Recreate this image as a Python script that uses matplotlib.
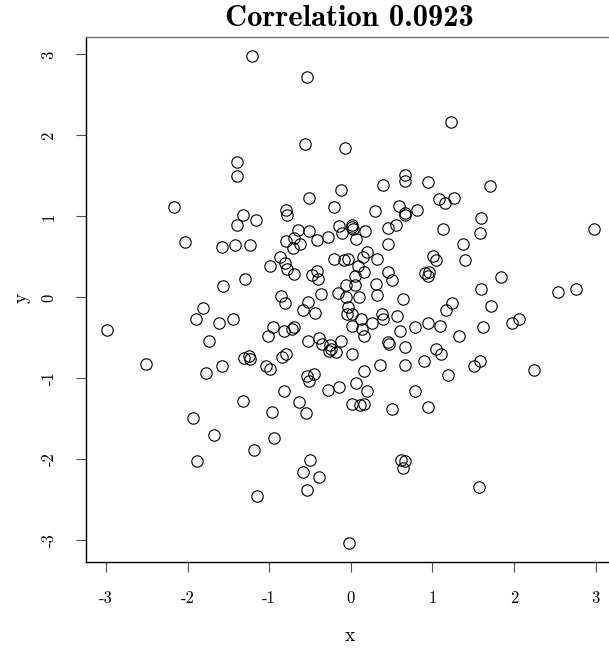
import numpy as np
import matplotlib
matplotlib.use("Agg")
import matplotlib.pyplot as plt

plt.rcParams['axes.unicode_minus'] = False

# sample points (x, y)
xs = [-1.21, -0.54, 1.23, -0.56, -0.07, -1.39, -1.39, 0.67, 0.66, 0.40,
      0.95, 1.71, -0.12, -0.51, 1.08, 1.15, 1.27, -2.16, -0.80, -0.78,
      -0.21, 0.30, 0.59, 0.66, 0.67, 0.81, -1.32, -1.16, 1.59, 2.98,
      1.13, 1.58, -1.40, -0.65, -0.51, -0.14, -0.11, 0.01, 0.02, 0.03,
      0.06, 0.18, 0.46, 0.55, 0.45, 1.38, -2.03, -1.58, -1.42, -1.23,
      -0.80, -0.70, -0.62, -0.71, -0.41, -0.28, 0.20, 0.15, 0.32, 1.01,
      1.04, 1.40, -0.87, -0.81, -0.99, -0.78, -0.69, -0.21, -0.08, -0.03,
      0.09, -0.41, -0.47, -0.40, 0.05, 0.16, 0.45, 0.50, 0.31, 0.91,
      0.96, 0.95, 1.84, -1.30, -1.56, -0.06, 0.05, 1.60, 2.54, 2.76,
      -0.85, -0.81, -0.36, -0.16, -0.06, 0.10, 0.32, 0.64, -0.52, -0.58,
      -0.44, -0.03, -0.05, 0.02, 0.01, 0.13, 0.14, 0.16, 0.26, 0.38,
      0.39, 0.56, 0.60, 0.79, 0.95, 1.09, 1.24, 1.17, 1.72, 1.62,
      1.98, 2.06, 1.33, -1.81, -1.90, -1.44, -1.61, -2.99, -1.74, -0.95,
      -1.02, -0.82, -0.72, -0.70, -0.53, -0.39, -0.35, -0.26, -0.24, -0.18,
      -0.27, -0.12, 0.45, 0.47, 0.67, 1.04, 1.11, 0.02, -1.31, -1.25,
      -1.24, -0.84, -0.80, -2.51, -1.58, -1.78, -1.04, -0.99, 0.36, 0.66,
      0.90, 1.58, 1.51, 2.24, 1.19, 0.16, -0.54, -0.51, -0.45, -0.82,
      -0.28, -0.14, 0.06, 0.20, 0.79, -1.32, -0.97, -0.64, -0.55, 0.01,
      0.11, 0.16, 0.51, 0.95, -1.93, -1.67, -0.94, -1.19, -1.89, -0.50,
      -0.59, -0.39, -0.54, -1.15, 0.61, 0.67, 0.64, 1.57, -0.02]
ys = [2.98, 2.72, 2.17, 1.90, 1.84, 1.67, 1.50, 1.51, 1.44, 1.39,
      1.42, 1.38, 1.33, 1.23, 1.21, 1.17, 1.23, 1.12, 1.08, 1.02,
      1.12, 1.07, 1.13, 1.04, 1.02, 1.08, 1.02, 0.96, 0.98, 0.85,
      0.85, 0.79, 0.89, 0.83, 0.82, 0.88, 0.80, 0.89, 0.87, 0.85,
      0.72, 0.82, 0.86, 0.89, 0.66, 0.66, 0.69, 0.62, 0.65, 0.65,
      0.70, 0.73, 0.66, 0.61, 0.71, 0.75, 0.56, 0.50, 0.47, 0.51,
      0.46, 0.46, 0.50, 0.42, 0.39, 0.35, 0.29, 0.48, 0.46, 0.47,
      0.39, 0.33, 0.28, 0.23, 0.27, 0.31, 0.32, 0.21, 0.17, 0.30,
      0.32, 0.27, 0.25, 0.23, 0.14, 0.15, 0.15, 0.11, 0.07, 0.10,
      0.02, -0.07, 0.04, 0.06, 0.01, 0.01, 0.03, -0.02, -0.05, -0.16,
      -0.19, -0.12, -0.21, -0.21, -0.35, -0.27, -0.39, -0.48, -0.31, -0.21,
      -0.26, -0.23, -0.41, -0.36, -0.32, -0.35, -0.07, -0.15, -0.11, -0.36,
      -0.32, -0.26, -0.47, -0.13, -0.26, -0.27, -0.32, -0.40, -0.54, -0.37,
      -0.47, -0.41, -0.39, -0.37, -0.54, -0.50, -0.58, -0.59, -0.63, -0.67,
      -0.66, -0.54, -0.55, -0.58, -0.61, -0.63, -0.70, -0.70, -0.75, -0.72,
      -0.76, -0.74, -0.70, -0.82, -0.84, -0.93, -0.85, -0.88, -0.83, -0.83,
      -0.78, -0.78, -0.84, -0.89, -0.96, -0.91, -0.97, -1.03, -0.94, -1.16,
      -1.14, -1.11, -1.06, -1.16, -1.16, -1.28, -1.41, -1.29, -1.42, -1.31,
      -1.33, -1.31, -1.38, -1.35, -1.49, -1.70, -1.74, -1.88, -2.02, -2.01,
      -2.16, -2.22, -2.38, -2.45, -2.01, -2.02, -2.11, -2.34, -3.03]

ticks = [-3, -2, -1, 0, 1, 2, 3]
tick_labels = ["-3", "-2", "-1", "0", "1", "2", "3"]

W, H = 609, 649
fig = plt.figure(figsize=(W / 100, H / 100), dpi=100)
ax = fig.add_axes([86 / W, 86.8 / H, 527 / W, 525.7 / H])

ax.plot(xs, ys, linestyle="none", marker="o", markersize=8.2,
        markerfacecolor="none", markeredgecolor="black", markeredgewidth=0.8)

ax.set_xlim(-3.244, 3.212)
ax.set_ylim(-3.268, 3.222)

for side in ["left", "bottom", "right"]:
    ax.spines[side].set_color("black")
    ax.spines[side].set_linewidth(1.0)
ax.spines["top"].set_color("0.45")
ax.spines["top"].set_linewidth(1.0)

ax.set_xticks(ticks)
ax.set_xticklabels(tick_labels, fontfamily="cmr10", fontsize=12)
ax.set_yticks(ticks)
ax.set_yticklabels(tick_labels, fontfamily="cmr10", fontsize=12,
                   rotation=90, va="center")
ax.tick_params(axis="x", length=7.2, width=0.8, color="0.3", pad=13)
ax.tick_params(axis="y", length=7.2, width=0.8, color="0.3", pad=14)

fig.text(349.5 / W, 1 - 18 / H, "Correlation 0.0923", fontfamily="cmb10",
         fontsize=22, ha="center", va="center")
fig.text(349.5 / W, 1 - 636 / H, "x", fontfamily="cmr10", fontsize=14,
         ha="center", va="center")
fig.text(22 / W, 1 - 298 / H, "y", fontfamily="cmr10", fontsize=14,
         ha="center", va="center", rotation=90)

fig.savefig("out.png", dpi=100)
